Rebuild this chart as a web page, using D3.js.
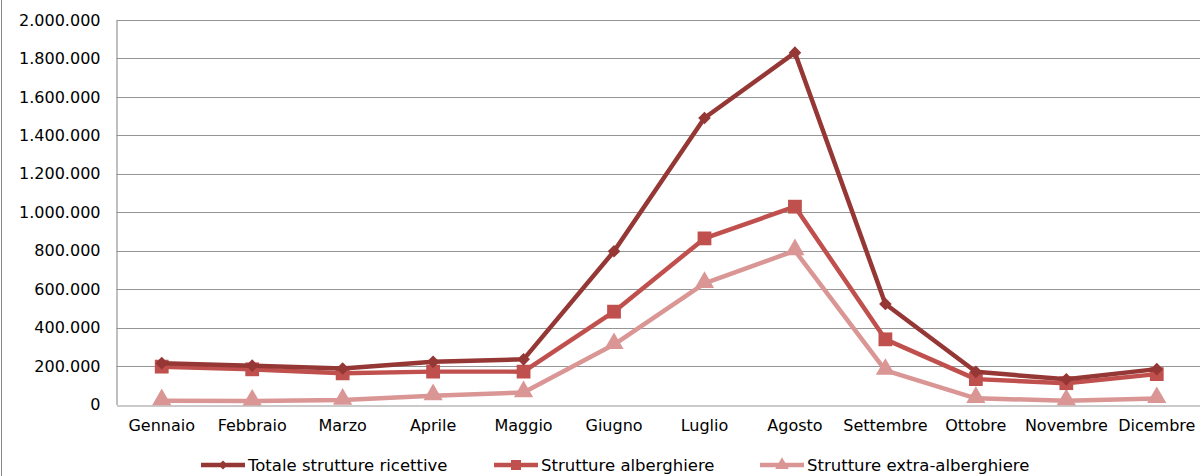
<!DOCTYPE html>
<html>
<head>
<meta charset="utf-8">
<script src="https://cdn.jsdelivr.net/npm/d3@7"></script>
<style>
  html, body { margin: 0; padding: 0; background: #fff; }
  svg { display: block; }
</style>
</head>
<body>
<div id="chart"></div>
<script>
  // months on the x axis
  const months = ["Gennaio", "Febbraio", "Marzo", "Aprile", "Maggio", "Giugno",
    "Luglio", "Agosto", "Settembre", "Ottobre", "Novembre", "Dicembre"];

  // presences per month
  const totale = [215000, 202000, 187000, 222000, 235000, 797000,
    1490000, 1830000, 523000, 170000, 131000, 184000];
  const alberghiere = [197000, 183000, 162000, 171000, 171000, 483000,
    864000, 1029000, 339000, 132000, 111000, 158000];
  const extra = [20000, 18000, 23000, 46000, 62000, 312000,
    630000, 800000, 178000, 32000, 20000, 31000];

  const yTicks = [0, 200000, 400000, 600000, 800000, 1000000,
    1200000, 1400000, 1600000, 1800000, 2000000];

  const series = [
    { name: "Totale strutture ricettive", values: totale, color: "#953735", marker: "diamond" },
    { name: "Strutture alberghiere", values: alberghiere, color: "#C0504D", marker: "square" },
    { name: "Strutture extra-alberghiere", values: extra, color: "#D99694", marker: "triangle" }
  ];

  const width = 1200, height = 476;
  const margin = { top: 20, right: -2, bottom: 71.5, left: 116.5 };

  const svg = d3.select("#chart").append("svg")
      .attr("width", width)
      .attr("height", height)
      .attr("font-family", "DejaVu Sans, Verdana, sans-serif");

  // chart area border (only the left edge falls inside the picture)
  svg.append("rect")
      .attr("x", 1.5).attr("y", -10)
      .attr("width", width + 20).attr("height", height + 20)
      .attr("fill", "none")
      .attr("stroke", "#868686")
      .attr("stroke-width", 1);

  const x = d3.scaleBand()
      .domain(months)
      .range([margin.left, width - margin.right]);

  const y = d3.scaleLinear()
      .domain([0, 2000000])
      .range([height - margin.bottom, margin.top]);

  const itFormat = d3.formatLocale({ decimal: ",", thousands: ".", grouping: [3], currency: ["€", ""] }).format(",d");

  // horizontal gridlines
  svg.append("g")
    .selectAll("line")
    .data(yTicks.slice(1))
    .join("line")
      .attr("x1", margin.left)
      .attr("x2", width)
      .attr("y1", d => Math.round(y(d)) + 0.5)
      .attr("y2", d => Math.round(y(d)) + 0.5)
      .attr("stroke", "#959595")
      .attr("stroke-width", 1.2);

  // y axis
  const yAxis = svg.append("g")
      .attr("transform", `translate(${margin.left},0)`)
      .call(d3.axisLeft(y).tickValues(yTicks).tickFormat(itFormat).tickSize(0).tickPadding(16));
  yAxis.select(".domain").attr("stroke", "#959595").attr("stroke-width", 1.2);
  yAxis.selectAll("text").attr("font-size", 16).attr("fill", "#000").attr("font-family", "DejaVu Sans, Verdana, sans-serif");

  // x axis
  const xAxis = svg.append("g")
      .attr("transform", `translate(0,${Math.round(y(0)) + 0.5})`)
      .call(d3.axisBottom(x).tickSize(0).tickPadding(14));
  xAxis.select(".domain").attr("stroke", "#959595").attr("stroke-width", 1.2);
  xAxis.selectAll("text").attr("font-size", 16).attr("fill", "#000").attr("font-family", "DejaVu Sans, Verdana, sans-serif");

  const cx = m => x(m) + x.bandwidth() / 2;

  const line = d3.line()
      .x((d, i) => cx(months[i]))
      .y(d => y(d));

  const symbolOf = {
    diamond: d3.symbol().type(d3.symbolSquare).size(80),
    square: d3.symbol().type(d3.symbolSquare).size(190),
    triangle: d3.symbol().type(d3.symbolTriangle).size(160)
  };

  function drawMarker(g, kind, color) {
    const p = g.append("path")
        .attr("d", symbolOf[kind]())
        .attr("fill", color);
    if (kind === "diamond") p.attr("transform", "rotate(45)");
    if (kind === "triangle") p.attr("transform", "translate(0,-1)");
    return p;
  }

  // draw the lighter series first so the total sits on top
  series.slice().reverse().forEach(s => {
    const g = svg.append("g");
    g.append("path")
        .datum(s.values)
        .attr("fill", "none")
        .attr("stroke", s.color)
        .attr("stroke-width", 4.5)
        .attr("stroke-linejoin", "round")
        .attr("d", line);
    g.selectAll("g.mk")
      .data(s.values)
      .join("g")
        .attr("class", "mk")
        .attr("transform", (d, i) => `translate(${cx(months[i])},${y(d)})`)
        .each(function() { drawMarker(d3.select(this), s.marker, s.color); });
  });

  // legend
  const legendX = [201, 494, 760];
  const legend = svg.append("g")
      .attr("transform", "translate(0,465)");
  series.forEach((s, i) => {
    const item = legend.append("g").attr("transform", `translate(${legendX[i]},0)`);
    item.append("line")
        .attr("x1", 0).attr("x2", 44)
        .attr("stroke", s.color)
        .attr("stroke-width", 4.5);
    const mk = item.append("g").attr("transform", "translate(22,0)");
    const sym = s.marker === "diamond" ? d3.symbol().type(d3.symbolSquare).size(40)
      : s.marker === "square" ? d3.symbol().type(d3.symbolSquare).size(100)
      : d3.symbol().type(d3.symbolTriangle).size(80);
    mk.append("path")
        .attr("d", sym())
        .attr("fill", s.color)
        .attr("transform", s.marker === "diamond" ? "rotate(45)" : null);
    item.append("text")
        .attr("x", 47)
        .attr("dy", "0.35em")
        .attr("font-size", 16.5)
        .attr("fill", "#000")
        .text(s.name);
  });
</script>
</body>
</html>
